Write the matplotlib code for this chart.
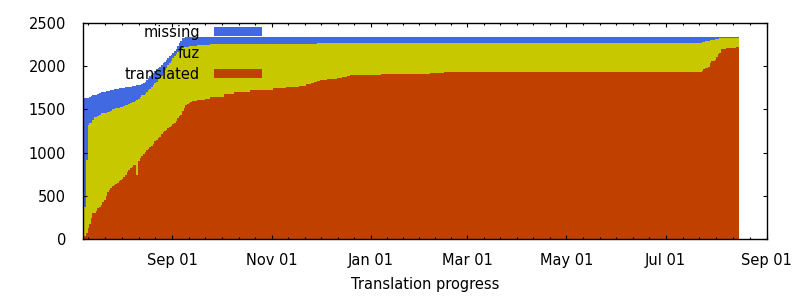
import matplotlib
matplotlib.use('Agg')
import matplotlib.pyplot as plt
import matplotlib.dates as mdates
from matplotlib.patches import Patch
from matplotlib.ticker import FixedLocator
import numpy as np
import pandas as pd

dates = [
    '2012-07-08', '2012-07-09', '2012-07-10', '2012-07-11', '2012-07-12', '2012-07-13',
    '2012-07-14', '2012-07-15', '2012-07-16', '2012-07-17', '2012-07-18', '2012-07-19',
    '2012-07-20', '2012-07-21', '2012-07-22', '2012-07-23', '2012-07-24', '2012-07-25',
    '2012-07-26', '2012-07-27', '2012-07-28', '2012-07-29', '2012-07-30', '2012-07-31',
    '2012-08-01', '2012-08-02', '2012-08-03', '2012-08-04', '2012-08-05', '2012-08-06',
    '2012-08-07', '2012-08-08', '2012-08-09', '2012-08-10', '2012-08-11', '2012-08-12',
    '2012-08-13', '2012-08-14', '2012-08-15', '2012-08-16', '2012-08-17', '2012-08-18',
    '2012-08-19', '2012-08-20', '2012-08-21', '2012-08-22', '2012-08-23', '2012-08-24',
    '2012-08-25', '2012-08-26', '2012-08-27', '2012-08-28', '2012-08-29', '2012-08-30',
    '2012-08-31', '2012-09-01', '2012-09-02', '2012-09-03', '2012-09-04', '2012-09-05',
    '2012-09-06', '2012-09-07', '2012-09-08', '2012-09-09', '2012-09-10', '2012-09-11',
    '2012-09-12', '2012-09-13', '2012-09-14',
    '2012-09-16', '2012-09-18', '2012-09-21', '2012-09-24', '2012-10-03', '2012-10-09',
    '2012-10-19', '2012-11-02', '2012-11-10', '2012-11-18', '2012-11-22', '2012-11-25',
    '2012-11-27', '2012-11-29', '2012-12-01', '2012-12-05', '2012-12-11', '2012-12-14',
    '2012-12-17', '2012-12-19', '2013-01-07', '2013-02-06', '2013-02-15',
    '2013-07-23', '2013-07-24', '2013-07-25', '2013-07-26', '2013-07-27', '2013-07-28',
    '2013-07-29', '2013-07-31', '2013-08-01', '2013-08-02', '2013-08-03', '2013-08-04',
    '2013-08-07', '2013-08-13', '2013-08-15',
]

translated = [
    30, 40, 69, 127, 180, 242, 300, 300, 330, 358,
    370, 400, 430, 454, 500, 549, 565, 590, 610, 627,
    640, 655, 670, 684, 700, 718, 740, 780, 800, 820,
    840, 858, 858, 742, 900, 935, 960, 990, 1011, 1031,
    1045, 1063, 1080, 1100, 1130, 1150, 1165, 1184, 1218, 1235,
    1250, 1262, 1280, 1300, 1313, 1330, 1339, 1370, 1400, 1420,
    1435, 1480, 1520, 1550, 1563, 1575, 1588, 1595, 1600,
    1605, 1608, 1625, 1646, 1677, 1704, 1723, 1743, 1761, 1775,
    1792, 1804, 1815, 1827, 1839, 1850, 1862, 1873, 1885, 1896,
    1908, 1919, 1931,
    1942, 1962, 1973, 1973, 1988, 2031, 2062, 2073, 2100, 2135,
    2154, 2196, 2208, 2219, 2219,
]

translated_fuzzy = [
    130, 376, 915, 1319, 1339, 1339, 1380, 1415, 1415, 1420,
    1430, 1454, 1454, 1458, 1462, 1466, 1472, 1480, 1500, 1505,
    1510, 1515, 1520, 1525, 1530, 1535, 1550, 1555, 1560, 1570,
    1580, 1590, 1600, 1610, 1620, 1640, 1660, 1670, 1680, 1700,
    1720, 1740, 1760, 1780, 1800, 1820, 1845, 1870, 1890, 1920,
    1950, 1980, 2010, 2030, 2060, 2090, 2120, 2140, 2160, 2175,
    2190, 2205, 2215, 2220, 2225, 2228, 2230, 2232, 2235,
    2240, 2245, 2248, 2250, 2254, 2256, 2256, 2256, 2256, 2256,
    2256, 2256, 2256, 2266, 2266, 2266, 2266, 2266, 2266, 2266,
    2266, 2266, 2266,
    2277, 2277, 2289, 2289, 2289, 2300, 2300, 2312, 2312, 2312,
    2323, 2323, 2323, 2323, 2323,
]

total = [
    1630, 1630, 1630, 1630, 1640, 1654, 1665, 1665, 1670, 1680,
    1690, 1704, 1704, 1706, 1710, 1712, 1716, 1720, 1725, 1735,
    1738, 1740, 1744, 1748, 1750, 1752, 1755, 1758, 1760, 1763,
    1765, 1770, 1775, 1778, 1782, 1785, 1790, 1800, 1815, 1839,
    1860, 1880, 1900, 1916, 1940, 1960, 1975, 1992, 2010, 2030,
    2050, 2069, 2090, 2110, 2130, 2147, 2170, 2200, 2230, 2262,
    2290, 2320, 2325, 2330, 2332, 2334, 2335, 2336, 2337,
    2338, 2338, 2338, 2338, 2338, 2338, 2338, 2338, 2338, 2338,
    2338, 2338, 2338, 2338, 2338, 2338, 2338, 2338, 2338, 2338,
    2338, 2338, 2338,
    2338, 2338, 2338, 2338, 2338, 2338, 2338, 2338, 2338, 2338,
    2335, 2335, 2335, 2335, 2335,
]

series_labels = ['missing', 'fuz', 'translated']
series_colors = ['#4169E1', '#C8C800', '#C04000']

major_tick_dates = ['2012-07-01', '2012-09-01', '2012-11-01', '2013-01-01',
                    '2013-03-01', '2013-05-01', '2013-07-01', '2013-09-01']
x_range = ['2012-07-08', '2013-09-01']
y_ticks = [0, 500, 1000, 1500, 2000, 2500]

x = pd.to_datetime(dates)

fig = plt.figure(figsize=(8, 3), dpi=100)
ax = fig.add_axes([0.1034, 0.2023, 0.855, 0.722])

for vals, col in zip([total, translated_fuzzy, translated], series_colors):
    ax.fill_between(x, 0, vals, step='post', color=col, lw=0, antialiased=False)

ax.set_xlim(pd.Timestamp(x_range[0]), pd.Timestamp(x_range[1]))
ax.set_ylim(0, 2500)

majors = mdates.date2num(pd.to_datetime(major_tick_dates))
ax.xaxis.set_major_locator(FixedLocator(majors[1:]))
ax.xaxis.set_major_formatter(mdates.DateFormatter('%b %d'))
minors = []
for a, b in zip(majors[:-1], majors[1:]):
    minors.extend(np.linspace(a, b, 7)[1:6])
ax.xaxis.set_minor_locator(FixedLocator(minors))
ax.set_yticks(y_ticks)

ax.tick_params(which='both', direction='in', top=True, right=True, width=0.8)
ax.tick_params(which='major', length=3.0)
ax.tick_params(which='minor', length=1.5)
ax.tick_params(axis='y', pad=12, labelsize=10.5)
ax.tick_params(axis='x', pad=10, labelsize=10.5)
for s in ax.spines.values():
    s.set_linewidth(1.0)

ax.set_xlabel('Translation progress', fontsize=10.5, labelpad=6)

handles = [Patch(facecolor=c, edgecolor='none') for c in series_colors]
ax.legend(handles, series_labels, loc='upper right', bbox_to_anchor=(0.262, 0.99),
          frameon=False, markerfirst=False, handlelength=3.3, handleheight=0.55,
          handletextpad=0.95, labelspacing=0.4, borderpad=0, borderaxespad=0,
          fontsize=10.5)

fig.savefig('out.png', dpi=100)
